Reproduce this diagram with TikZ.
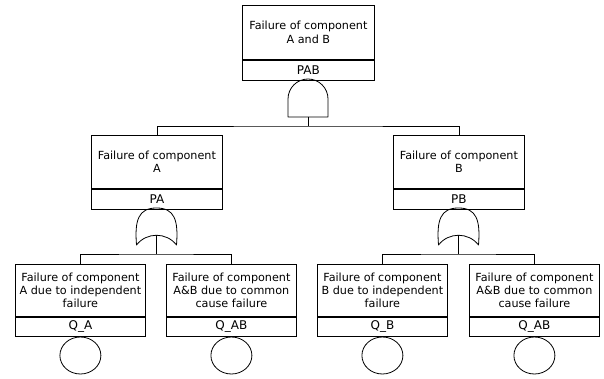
\documentclass[tikz,border=0pt]{standalone}
\usepackage{fontspec}
\setmainfont{DejaVu Sans}
\usetikzlibrary{shapes.geometric}
\begin{document}
\begin{tikzpicture}[x=1pt,y=-1pt,line width=0.8pt,
  evbox/.style={draw, rectangle, inner sep=0pt, align=center, anchor=north west,
    font=\fontsize{11.2}{13.2}\selectfont},
  lblbox/.style={draw, rectangle, inner sep=0pt, anchor=north, minimum height=20pt,
    font=\fontsize{12}{13}\selectfont},
  basic/.style={draw, ellipse, inner sep=0pt, minimum width=41pt, minimum height=37pt, anchor=north},
  gate/.style={draw, line join=round},
  wire/.style={draw}]
\useasboundingbox (0,0) rectangle (604,379);

% top event
\node[evbox, minimum width=132pt, minimum height=54pt] (top) at (242,5) {Failure of component\\A and B};
\node[lblbox, minimum width=132pt] (topl) at (top.south) {PAB};

% middle events
\node[evbox, minimum width=131pt, minimum height=53pt] (ma) at (91,135) {Failure of component\\A};
\node[lblbox, minimum width=131pt] (mal) at (ma.south) {PA};
\node[evbox, minimum width=131pt, minimum height=53pt] (mb) at (393,135) {Failure of component\\B};
\node[lblbox, minimum width=131pt] (mbl) at (mb.south) {PB};

% bottom events
\node[evbox, minimum width=130pt, minimum height=52pt] (ea) at (15,264) {Failure of component\\A due to independent\\failure};
\node[lblbox, minimum width=130pt, minimum height=19pt] (eal) at (ea.south) {Q\_A};
\node[basic] (ca) at (eal.south) {};
\node[evbox, minimum width=130pt, minimum height=52pt] (eab1) at (166,264) {Failure of component\\A\&B due to common\\cause failure};
\node[lblbox, minimum width=130pt, minimum height=19pt] (eab1l) at (eab1.south) {Q\_AB};
\node[basic] (cab1) at (eab1l.south) {};
\node[evbox, minimum width=130pt, minimum height=52pt] (eb) at (317,264) {Failure of component\\B due to independent\\failure};
\node[lblbox, minimum width=130pt, minimum height=19pt] (ebl) at (eb.south) {Q\_B};
\node[basic] (cb) at (ebl.south) {};
\node[evbox, minimum width=130pt, minimum height=52pt] (eab2) at (469,264) {Failure of component\\A\&B due to common\\cause failure};
\node[lblbox, minimum width=130pt, minimum height=19pt] (eab2l) at (eab2.south) {Q\_AB};
\node[basic] (cab2) at (eab2l.south) {};

% AND gate under top event
\draw[gate] (288,117) -- (288,99) arc[start angle=180, end angle=0, radius=20pt] -- (328,117) -- cycle;
\coordinate (andout) at (308,117);
\coordinate (j1) at (308,126);
\draw[wire] (andout) -- (j1);
\draw[wire] (ma.north) |- (j1) -| (mb.north);

% OR gate under A
\draw[gate] (156.5,208) .. controls (138.5,208) and (134.5,220) .. (136.5,245)
  .. controls (146.5,232) and (166.5,232) .. (176.5,245)
  .. controls (178.5,220) and (174.5,208) .. (156.5,208) -- cycle;
\coordinate (orAout) at (156.5,235.3);
\coordinate (j2) at (156.5,254);
\draw[wire] (orAout) -- (j2);
\draw[wire] (ea.north) |- (j2) -| (eab1.north);

% OR gate under B
\draw[gate] (458.5,208) .. controls (440.5,208) and (436.5,220) .. (438.5,245)
  .. controls (448.5,232) and (468.5,232) .. (478.5,245)
  .. controls (480.5,220) and (476.5,208) .. (458.5,208) -- cycle;
\coordinate (orBout) at (458.5,235.3);
\coordinate (j3) at (458.5,254);
\draw[wire] (orBout) -- (j3);
\draw[wire] (eb.north) |- (j3) -| (eab2.north);
\end{tikzpicture}
\end{document}
